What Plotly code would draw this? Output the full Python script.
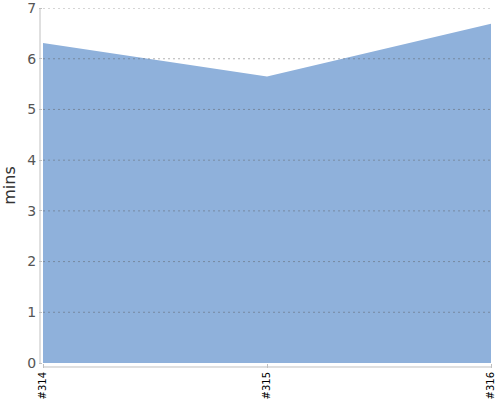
import plotly.graph_objects as go

builds = ["#314", "#315", "#316"]
mins = [6.31, 5.65, 6.69]
y_ticks = [0, 1, 2, 3, 4, 5, 6, 7]

fig = go.Figure()

fig.add_trace(go.Scatter(
    x=builds,
    y=mins,
    mode='lines',
    fill='tozeroy',
    fillcolor='#8fb1db',
    line=dict(color='#8fb1db', width=0),
    hoverinfo='skip'
))

# dashed gridlines drawn over the area
shapes = []
for t in y_ticks[1:]:
    shapes.append(dict(
        type='line', xref='paper', yref='y',
        x0=0, x1=1, y0=t, y1=t,
        line=dict(color='rgba(90,90,90,0.45)', width=1, dash='2px,3px'),
        layer='above'
    ))

# offset axis lines
shapes.append(dict(type='line', xref='paper', yref='paper',
                   x0=-3 / 448, x1=-3 / 448, y0=0, y1=1,
                   line=dict(color='#c0c0c0', width=1)))
shapes.append(dict(type='line', xref='paper', yref='paper',
                   x0=0, x1=1, y0=-4 / 356, y1=-4 / 356,
                   line=dict(color='#c0c0c0', width=1)))

fig.update_layout(
    width=500,
    height=400,
    margin=dict(l=43, r=9, t=8, b=37, autoexpand=False),
    plot_bgcolor='white',
    paper_bgcolor='white',
    showlegend=False,
    shapes=shapes,
    font=dict(family='DejaVu Sans'),
    xaxis=dict(
        type='category',
        range=[0, 2],
        automargin=False,
        showgrid=False,
        zeroline=False,
        showline=False,
        tickangle=-90,
        ticks='outside',
        ticklen=4,
        tickcolor='#c0c0c0',
        tickfont=dict(size=10, color='black'),
        ticklabeloverflow='allow',
    ),
    yaxis=dict(
        range=[0, 7.001],
        tickvals=y_ticks,
        automargin=False,
        showgrid=False,
        zeroline=False,
        showline=False,
        ticks='outside',
        ticklen=3,
        tickcolor='#c0c0c0',
        tickfont=dict(size=14, color='#555555'),
        ticklabeloverflow='allow',
        title=dict(text='mins', font=dict(size=16, color='#333333'), standoff=8),
    ),
)

# drop the default page margin so the chart sits at the window corner
fig.write_html("out.html", config={'displayModeBar': False},
               post_script="document.body.style.margin='0';")
